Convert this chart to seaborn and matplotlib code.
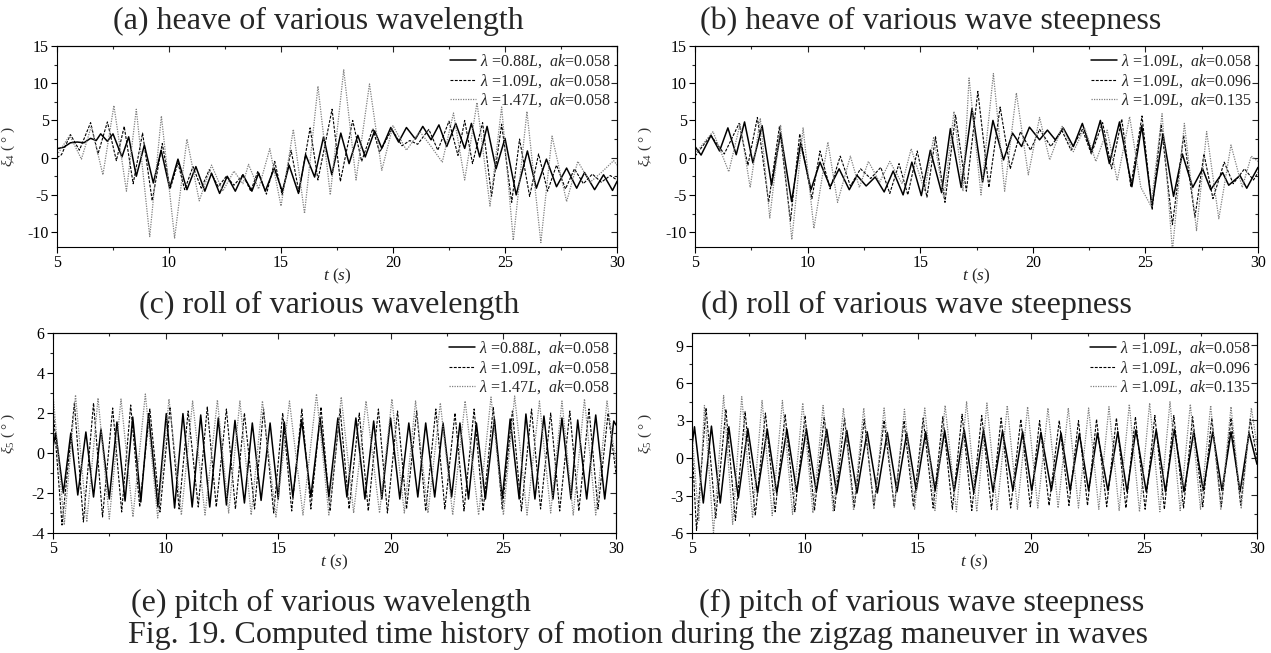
import matplotlib
matplotlib.use("Agg")
import matplotlib.pyplot as plt
import seaborn as sns
import pandas as pd
from matplotlib.ticker import MultipleLocator
from matplotlib.lines import Line2D

# ---------------- data (extrema) ----------------
# panel (a) heave, various wavelength
A1 = [(5.0,1.2),(5.3,1.4),(5.6,2.0),(5.9,2.1),(6.2,2.0),(6.5,2.6),(6.75,2.3),(6.95,3.2),(7.25,2.2),(7.5,3.2),
      (7.9,0.1),(8.2,2.8),(8.54,-2.5),(8.9,1.7),(9.3,-3.4),(9.65,1.0),(10.03,-4.1),(10.4,-0.2),(10.8,-4.3),
      (11.2,-1.2),(11.6,-4.5),(11.9,-2.1),(12.26,-4.8),(12.6,-2.5),(12.96,-4.5),(13.3,-2.3),(13.7,-4.5),
      (14.0,-2.1),(14.3,-4.5),(14.7,-1.4),(15.06,-4.55),(15.36,-1.0),(15.78,-4.8),(16.1,0.4),(16.5,-2.6),
      (16.9,2.8),(17.27,-2.3),(17.67,3.3),(18.04,-0.8),(18.43,3.0),(18.76,0.1),(19.18,3.6),(19.5,1.25),
      (19.9,4.05),(20.25,2.1),(20.6,4.05),(21.0,2.5),(21.33,4.2),(21.7,2.4),(22.05,4.4),(22.4,1.5),(22.8,4.6),
      (23.2,1.25),(23.5,4.6),(23.87,0.1),(24.2,4.2),(24.6,-1.5),(25.0,2.6),(25.5,-5.0),(26.0,0.9),(26.4,-4.1),
      (26.85,-0.2),(27.3,-3.9),(27.75,-1.4),(28.2,-4.1),(28.55,-2.0),(29.0,-4.3),(29.4,-2.3),(29.8,-4.4),(30.0,-3.2)]
A2 = [(5.0,0.0),(5.2,0.4),(5.6,3.1),(6.0,1.0),(6.5,4.7),(6.83,0.5),(7.25,4.8),(7.65,-0.4),(8.0,4.2),(8.4,-3.5),
      (8.82,3.3),(9.25,-5.8),(9.7,1.9),(10.05,-4.2),(10.4,-0.7),(10.7,-4.3),(11.07,-1.2),(11.44,-4.1),(11.8,-1.6),
      (12.2,-3.9),(12.56,-2.5),(12.9,-3.7),(13.3,-2.3),(13.65,-4.5),(13.97,-1.8),(14.35,-4.9),(14.72,-0.5),
      (15.05,-5.0),(15.45,1.0),(15.8,-4.6),(16.3,4.0),(16.65,-3.0),(17.28,6.5),(17.65,-3.2),(18.2,5.0),
      (18.6,-0.5),(19.1,3.9),(19.4,0.7),(19.95,3.8),(20.4,1.6),(20.75,2.3),(21.1,1.8),(21.6,3.8),(22.0,1.0),
      (22.5,4.9),(22.9,0.3),(23.2,5.0),(23.55,-0.8),(24.0,4.7),(24.4,-5.2),(24.85,4.5),(25.3,-6.0),(25.65,2.5),
      (26.1,-5.2),(26.5,0.5),(26.9,-4.5),(27.3,-1.0),(27.7,-4.2),(28.1,-1.5),(28.5,-3.5),(28.9,-2.2),(29.3,-3.3),
      (29.7,-2.4),(30.0,-3.0)]
A3 = [(5.0,0.35),(5.57,3.0),(6.09,-0.2),(6.53,4.2),(7.05,-2.3),(7.54,7.0),(8.1,-4.5),(8.54,6.5),(9.14,-10.6),
      (9.66,5.6),(10.25,-10.8),(10.8,2.5),(11.35,-5.8),(11.9,-1.0),(12.4,-4.5),(12.9,-1.8),(13.3,-3.5),(13.55,-0.9),
      (14.0,-4.2),(14.5,1.2),(15.0,-6.5),(15.55,3.8),(16.05,-7.5),(16.65,9.6),(17.2,-5.0),(17.8,11.8),(18.35,-3.0),
      (18.95,9.9),(19.5,-1.7),(20.0,4.3),(20.6,1.0),(21.2,3.5),(21.7,1.5),(22.2,-0.6),(22.7,6.0),(23.2,-3.0),
      (23.75,7.4),(24.33,-6.5),(24.85,6.8),(25.37,-11.1),(25.98,6.2),(26.6,-11.4),(27.1,2.9),(27.75,-5.9),
      (28.25,-0.5),(28.8,-3.3),(29.3,-2.0),(29.85,-0.4),(30.0,-1.0)]

# panel (b) heave, various wave steepness
B1 = [(5.0,1.5),(5.27,0.35),(5.71,3.0),(6.09,0.9),(6.46,4.0),(6.83,0.4),(7.2,4.8),(7.57,-0.7),(7.98,4.3),
      (8.4,-3.7),(8.8,3.3),(9.29,-5.9),(9.69,2.0),(10.15,-4.3),(10.55,-0.6),(11.0,-3.9),(11.4,-1.5),(11.85,-4.3),
      (12.2,-2.4),(12.6,-3.8),(13.0,-2.6),(13.4,-4.6),(13.8,-1.8),(14.24,-5.0),(14.63,-0.6),(15.05,-5.1),
      (15.45,1.0),(15.95,-4.7),(16.34,3.9),(16.82,-4.0),(17.3,6.6),(17.77,-3.3),(18.23,5.0),(18.7,-0.3),
      (19.1,3.3),(19.5,1.5),(19.85,4.1),(20.3,2.4),(20.65,3.7),(21.0,2.4),(21.35,4.0),(21.8,1.5),(22.2,4.6),
      (22.6,0.8),(23.0,5.0),(23.4,-0.8),(23.85,4.8),(24.4,-3.9),(24.84,4.3),(25.29,-6.5),(25.78,3.2),(26.25,-5.2),
      (26.64,0.5),(27.1,-4.0),(27.54,-1.5),(27.9,-4.3),(28.43,-2.0),(28.7,-3.7),(29.2,-2.4),(29.5,-4.1),(30.0,-1.3)]
B2 = [(5.0,0.2),(5.7,3.0),(6.3,0.5),(6.96,4.6),(7.35,-1.0),(7.77,5.4),(8.27,-6.0),(8.75,4.2),(9.24,-8.5),
      (9.65,3.2),(10.19,-5.5),(10.55,0.9),(11.0,-4.2),(11.45,0.2),(11.9,-3.8),(12.35,-1.5),(12.8,-2.8),(13.25,-1.3),
      (13.65,-4.8),(14.06,-0.8),(14.45,-5.0),(14.87,0.9),(15.3,-5.3),(15.68,2.8),(16.1,-6.0),(16.57,5.7),
      (17.05,-4.5),(17.56,8.9),(18.05,-4.0),(18.55,6.8),(19.0,-1.5),(19.45,3.5),(19.9,1.0),(20.3,3.8),(20.8,1.5),
      (21.3,3.6),(21.7,1.0),(22.2,3.8),(22.6,0.5),(23.1,4.7),(23.5,-1.5),(23.95,5.2),(24.35,-3.9),(24.85,5.6),
      (25.3,-7.0),(25.7,4.5),(26.2,-9.0),(26.7,3.0),(27.2,-8.0),(27.6,0.5),(28.0,-5.5),(28.5,-0.6),(28.9,-3.5),
      (29.4,-1.5),(29.8,-3.0),(30.0,-2.0)]
B3 = [(5.0,0.5),(5.8,3.5),(6.5,-1.9),(7.0,4.5),(7.45,-4.0),(7.9,5.3),(8.32,-8.1),(8.8,4.4),(9.3,-11.0),
      (9.8,4.0),(10.28,-9.5),(10.9,2.1),(11.33,-6.0),(11.9,0.2),(12.3,-4.0),(12.7,-0.5),(13.2,-3.3),(13.65,-0.5),
      (14.2,-3.5),(14.6,1.2),(15.2,-4.5),(15.6,2.8),(16.05,-5.5),(16.5,6.2),(16.9,-4.5),(17.17,10.7),(17.7,-5.0),
      (18.25,11.3),(18.75,-4.5),(19.27,8.7),(19.8,-2.3),(20.3,5.4),(20.75,-0.3),(21.3,4.2),(21.8,0.8),(22.3,4.0),
      (22.8,-0.5),(23.3,3.7),(23.75,-3.1),(24.3,5.5),(24.8,-4.0),(25.25,-6.5),(25.74,5.9),(26.2,-12.5),
      (26.73,4.6),(27.27,-9.8),(27.72,3.5),(28.26,-8.2),(28.8,1.7),(29.3,-4.0),(29.7,0.2),(30.0,-0.5)]

# panel (c) roll, various wavelength
C1 = [(5.0,0.3),(5.12,1.0),(5.46,-2.0),(5.79,1.0),(6.1,-2.1),(6.46,1.05),(6.8,-2.2),(7.13,1.2),(7.5,-2.3),
      (7.84,1.55),(8.2,-2.4),(8.54,1.8),(8.9,-2.45),(9.24,1.97),(9.66,-2.7),(10.03,1.97),(10.4,-2.75),(10.77,1.97),
      (11.18,-2.7),(11.56,1.9),(11.96,-2.7),(12.34,1.75),(12.7,-2.6),(13.08,1.63),(13.5,-2.5),(13.85,1.5),
      (14.24,-2.37),(14.64,1.5),(15.0,-2.3),(15.27,1.55),(15.65,-2.2),(16.04,1.67),(16.45,-2.2),(16.86,1.75),
      (17.25,-2.2),(17.65,1.75),(18.05,-2.2),(18.45,1.75),(18.85,-2.3),(19.24,1.6),(19.6,-2.3),(19.99,1.75),
      (20.4,-2.3),(20.8,1.5),(21.2,-2.2),(21.55,1.5),(21.95,-2.2),(22.32,1.5),(22.7,-2.2),(23.07,1.5),(23.45,-2.3),
      (23.8,1.5),(24.2,-2.3),(24.6,1.7),(24.95,-2.3),(25.3,1.7),(25.7,-2.3),(26.0,1.95),(26.4,-2.3),(26.8,1.85),
      (27.2,-2.3),(27.6,1.75),(28.0,-2.3),(28.3,1.65),(28.7,-2.3),(29.1,1.9),(29.5,-2.3),(29.9,1.6),(30.0,1.4)]
C2 = [(5.0,2.3),(5.4,-3.6),(5.95,2.5),(6.35,-3.45),(6.8,2.5),(7.2,-3.2),(7.65,2.25),(8.05,-2.95),(8.45,2.4),
      (8.85,-2.7),(9.3,2.2),(9.75,-2.95),(10.2,2.3),(10.6,-2.8),(11.0,2.1),(11.45,-2.7),(11.85,2.3),(12.25,-2.7),
      (12.7,2.2),(13.1,-2.8),(13.5,2.0),(13.95,-2.8),(14.35,2.2),(14.8,-3.0),(15.2,2.0),(15.6,-2.9),(16.05,2.2),
      (16.45,-2.8),(16.9,2.3),(17.3,-2.9),(17.75,2.2),(18.15,-2.8),(18.6,2.0),(19.0,-2.9),(19.45,2.2),(19.85,-3.0),
      (20.3,2.1),(20.7,-2.8),(21.15,2.1),(21.55,-2.9),(22.0,2.2),(22.4,-2.8),(22.85,2.0),(23.25,-2.9),(23.7,2.2),
      (24.1,-2.9),(24.55,2.3),(24.95,-2.8),(25.4,2.1),(25.8,-2.9),(26.25,2.2),(26.65,-2.8),(27.1,2.0),(27.5,-2.9),
      (27.95,2.1),(28.35,-2.9),(28.8,2.2),(29.2,-2.8),(29.65,2.0),(30.0,-1.0)]
C3 = [(5.0,2.95),(5.5,-3.6),(6.0,2.9),(6.5,-3.45),(7.0,2.75),(7.5,-3.3),(8.02,2.7),(8.55,-3.2),(9.1,2.95),
      (9.65,-3.25),(10.15,2.7),(10.7,-3.1),(11.2,2.6),(11.75,-3.1),(12.3,2.65),(12.8,-3.0),(13.3,2.6),(13.8,-3.1),
      (14.3,2.6),(14.9,-3.2),(15.5,2.6),(16.1,-3.1),(16.7,2.95),(17.25,-3.1),(17.8,2.8),(18.35,-3.0),(18.9,2.6),
      (19.5,-3.0),(20.05,2.7),(20.6,-3.0),(21.1,2.6),(21.65,-3.0),(22.2,2.5),(22.75,-3.1),(23.3,2.6),(23.9,-3.1),
      (24.45,2.8),(25.0,-3.1),(25.5,2.85),(26.05,-3.1),(26.6,2.6),(27.1,-3.0),(27.6,2.6),(28.1,-3.1),(28.6,2.7),
      (29.1,-3.1),(29.6,2.6),(30.0,-0.5)]

# panel (d) roll, various wave steepness
D1 = [(5.0,1.0),(5.11,2.5),(5.5,-3.6),(5.86,2.55),(6.25,-3.6),(6.63,2.5),(7.05,-3.2),(7.47,2.35),(7.9,-2.8),
      (8.33,2.3),(8.75,-2.8),(9.2,2.3),(9.63,-2.7),(10.06,2.35),(10.5,-2.7),(10.96,2.3),(11.4,-2.8),(11.85,2.2),
      (12.3,-2.8),(12.75,2.1),(13.2,-2.8),(13.64,2.05),(14.07,-2.7),(14.5,2.0),(14.92,-2.6),(15.34,2.1),
      (15.76,-2.6),(16.18,2.2),(16.6,-2.7),(17.04,2.3),(17.47,-2.8),(17.9,2.25),(18.32,-2.7),(18.74,2.15),
      (19.2,-2.6),(19.63,2.1),(20.03,-2.6),(20.44,2.05),(20.9,-2.6),(21.33,2.0),(21.73,-2.6),(22.14,1.95),
      (22.55,-2.6),(22.94,2.0),(23.4,-2.6),(23.84,2.1),(24.25,-2.7),(24.64,2.25),(25.1,-2.7),(25.54,2.25),
      (25.95,-2.7),(26.34,2.3),(26.77,-2.7),(27.2,2.1),(27.62,-2.6),(28.04,2.1),(28.45,-2.6),(28.85,2.1),
      (29.25,-2.7),(29.65,2.0),(30.0,-0.5)]
D2 = [(5.0,1.0),(5.2,-5.8),(5.62,4.0),(6.05,-4.8),(6.5,3.9),(6.92,-5.0),(7.35,3.7),(7.8,-4.6),(8.25,3.6),
      (8.68,-4.3),(9.12,3.5),(9.55,-4.3),(10.0,3.4),(10.42,-4.2),(10.85,3.3),(11.3,-4.2),(11.75,3.2),(12.18,-4.0),
      (12.62,3.1),(13.05,-3.9),(13.5,3.0),(13.95,-3.9),(14.38,3.0),(14.8,-3.9),(15.23,3.2),(15.67,-4.0),(16.1,3.3),
      (16.52,-4.1),(16.95,3.5),(17.38,-4.2),(17.82,3.4),(18.25,-4.1),(18.68,3.2),(19.1,-4.0),(19.55,3.1),
      (19.97,-3.9),(20.38,3.0),(20.8,-3.8),(21.25,3.0),(21.68,-3.8),(22.1,3.0),(22.5,-3.8),(22.9,3.1),(23.35,-3.9),
      (23.78,3.2),(24.2,-4.0),(24.62,3.3),(25.05,-4.1),(25.48,3.4),(25.9,-4.1),(26.32,3.4),(26.75,-4.0),(27.15,3.3),
      (27.6,-3.9),(28.0,3.2),(28.42,-3.9),(28.85,3.2),(29.28,-3.8),(29.7,3.1),(30.0,0.0)]
D3 = [(5.0,2.0),(5.3,-5.0),(5.55,4.2),(5.95,-6.0),(6.4,5.0),(6.8,-5.3),(7.2,4.9),(7.68,-4.8),(8.1,4.6),
      (8.55,-4.6),(9.0,4.6),(9.45,-4.5),(9.9,4.4),(10.35,-4.4),(10.8,4.2),(11.25,-4.3),(11.7,4.0),(12.15,-4.2),
      (12.6,4.0),(13.05,-4.1),(13.5,4.0),(13.95,-4.0),(14.4,3.9),(14.85,-4.1),(15.3,4.0),(15.75,-4.2),(16.2,4.2),
      (16.7,-4.3),(17.15,4.5),(17.6,-4.3),(18.05,4.4),(18.5,-4.2),(18.95,4.2),(19.4,-4.1),(19.85,4.1),(20.3,-4.0),
      (20.75,4.0),(21.2,-4.0),(21.65,4.0),(22.1,-4.0),(22.55,4.0),(23.0,-4.1),(23.45,4.1),(23.9,-4.2),(24.35,4.3),
      (24.8,-4.3),(25.25,4.4),(25.7,-4.3),(26.15,4.5),(26.6,-4.2),(27.05,4.3),(27.5,-4.1),(27.95,4.2),(28.4,-4.1),
      (28.85,4.1),(29.3,-4.0),(29.75,4.0),(30.0,1.0)]

LEG_WAVELENGTH = [r"$\lambda$ =0.88$L$,  $ak$=0.058", r"$\lambda$ =1.09$L$,  $ak$=0.058", r"$\lambda$ =1.47$L$,  $ak$=0.058"]
LEG_STEEPNESS = [r"$\lambda$ =1.09$L$,  $ak$=0.058", r"$\lambda$ =1.09$L$,  $ak$=0.096", r"$\lambda$ =1.09$L$,  $ak$=0.135"]
TITLES = ["(a) heave of various wavelength", "(b) heave of various wave steepness",
          "(c) roll of various wavelength", "(d) roll of various wave steepness",
          "(e) pitch of various wavelength", "(f) pitch of various wave steepness"]
CAPTION = "Fig. 19. Computed time history of motion during the zigzag maneuver in waves"

# ---------------- style ----------------
sns.set_theme(style="ticks")
plt.rcParams['font.family'] = ['Liberation Serif', 'DejaVu Serif']
plt.rcParams['mathtext.fontset'] = 'custom'
plt.rcParams['mathtext.rm'] = 'Liberation Serif'
plt.rcParams['mathtext.it'] = 'Liberation Serif:italic'
plt.rcParams['mathtext.bf'] = 'Liberation Serif:bold'
plt.rcParams['axes.linewidth'] = 0.8
plt.rcParams['axes.unicode_minus'] = False

W, H = 1271, 653
fig = plt.figure(figsize=(W / 100, H / 100), dpi=100)
fig.patch.set_facecolor('white')

def rect(l, t, r, b):
    return [l / W, 1 - b / H, (r - l) / W, (b - t) / H]

STYLES = [dict(color='black', lw=1.1, dashes=''),
          dict(color='black', lw=0.8, dashes=(2.6, 1.3)),
          dict(color='#808080', lw=0.9, dashes=(1.0, 1.0))]

panels = [
    dict(l=57, ylx=17, r=rect(57, 46, 617, 247), data=[A1, A2, A3], leg=LEG_WAVELENGTH, ylim=(-12, 15), maj=5, mnr=2.5, yl=r"$\xi_{4}$ ( ° )"),
    dict(l=695, ylx=654, r=rect(695, 46, 1258, 247), data=[B1, B2, B3], leg=LEG_STEEPNESS, ylim=(-12, 15), maj=5, mnr=2.5, yl=r"$\xi_{4}$ ( ° )"),
    dict(l=53, ylx=17, r=rect(53, 333, 616, 533), data=[C1, C2, C3], leg=LEG_WAVELENGTH, ylim=(-4, 6), maj=2, mnr=1, yl=r"$\xi_{5}$ ( ° )"),
    dict(l=692, ylx=654, r=rect(692, 333, 1257, 533), data=[D1, D2, D3], leg=LEG_STEEPNESS, ylim=(-6, 10), maj=3, mnr=1.5, yl=r"$\xi_{5}$ ( ° )"),
]

for p in panels:
    ax = fig.add_axes(p['r'])
    frames = []
    for name, ser in zip(p['leg'], p['data']):
        frames.append(pd.DataFrame({'t': [q[0] for q in ser], 'v': [q[1] for q in ser], 'series': name}))
    df = pd.concat(frames, ignore_index=True)
    handles = []
    for name, st in zip(p['leg'], STYLES):
        sub = df[df['series'] == name]
        sns.lineplot(data=sub, x='t', y='v', ax=ax, color=st['color'], lw=st['lw'],
                     sort=False, estimator=None, legend=False)
        line = ax.lines[-1]
        if st['dashes']:
            line.set_dashes(st['dashes'])
        handles.append(Line2D([], [], color=st['color'], lw=st['lw'],
                              dashes=st['dashes'] if st['dashes'] else (None, None)))
    ax.set_xlim(5, 30)
    ax.set_ylim(*p['ylim'])
    ax.xaxis.set_major_locator(MultipleLocator(5))
    ax.xaxis.set_minor_locator(MultipleLocator(2.5))
    ax.yaxis.set_major_locator(MultipleLocator(p['maj']))
    ax.yaxis.set_minor_locator(MultipleLocator(p['mnr']))
    ax.tick_params(which='major', direction='out', length=4, width=0.8, labelsize=11.5, pad=2, colors='black')
    ax.tick_params(which='minor', direction='out', length=2.5, width=0.8)
    ax.set_xlabel(r"$t$ ($s$)", fontsize=12.5, labelpad=-3)
    ax.set_ylabel(p['yl'], fontsize=11, color='#333333')
    axw = p['r'][2] * W
    ax.yaxis.set_label_coords((p['ylx'] - p['l']) / axw, 0.5)
    for s in ax.spines.values():
        s.set_color('black')
        s.set_linewidth(0.8)
    top = ax.secondary_xaxis('top')
    top.xaxis.set_major_locator(MultipleLocator(5))
    top.xaxis.set_minor_locator(MultipleLocator(2.5))
    top.tick_params(which='both', direction='in', labeltop=False, width=0.8)
    top.tick_params(which='major', length=4)
    top.tick_params(which='minor', length=2.5)
    right = ax.secondary_yaxis('right')
    right.yaxis.set_major_locator(MultipleLocator(p['maj']))
    right.yaxis.set_minor_locator(MultipleLocator(p['mnr']))
    right.tick_params(which='both', direction='in', labelright=False, width=0.8)
    right.tick_params(which='major', length=4)
    right.tick_params(which='minor', length=2.5)
    ax.legend(handles, p['leg'], loc='upper right', frameon=False, fontsize=11.5,
              handlelength=1.6, handletextpad=0.25, labelspacing=0.12,
              borderaxespad=0.3, borderpad=0.1)

# titles / captions
TS = 23
fig.text(318 / W, 1 - 21 / H, TITLES[0], ha='center', va='center', fontsize=TS)
fig.text(931 / W, 1 - 21 / H, TITLES[1], ha='center', va='center', fontsize=TS)
fig.text(329 / W, 1 - 305 / H, TITLES[2], ha='center', va='center', fontsize=TS)
fig.text(916 / W, 1 - 305 / H, TITLES[3], ha='center', va='center', fontsize=TS)
fig.text(331 / W, 1 - 603 / H, TITLES[4], ha='center', va='center', fontsize=TS)
fig.text(922 / W, 1 - 603 / H, TITLES[5], ha='center', va='center', fontsize=TS)
fig.text(638 / W, 1 - 635 / H, CAPTION, ha='center', va='center', fontsize=TS)

fig.savefig("out.png", dpi=100, facecolor='white')
